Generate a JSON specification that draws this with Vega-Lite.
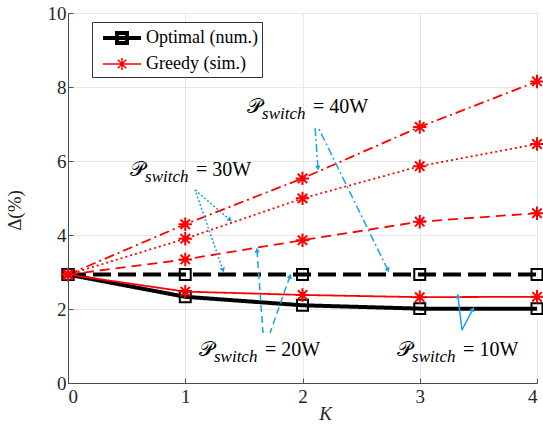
{
  "$schema": "https://vega.github.io/schema/vega-lite/v6.json",
  "autosize": "none",
  "width": 469,
  "height": 370,
  "padding": {"left": 68, "top": 13, "right": 6, "bottom": 41},
  "background": "white",
  "config": {
    "view": {"stroke": "#4d4d4d", "strokeWidth": 1},
    "font": "Liberation Serif",
    "axis": {
      "labelColor": "#262626",
      "titleFontWeight": "normal",
      "titleColor": "#262626",
      "domainColor": "#4d4d4d",
      "tickColor": "#4d4d4d",
      "tickSize": -5,
      "gridColor": "#e8e8e8",
      "gridWidth": 1
    },
    "legend": {
      "labelColor": "#000000",
      "fillColor": "white",
      "strokeColor": "#333333",
      "padding": 4,
      "rowPadding": 2
    }
  },
  "datasets": {
    "curves": [
      {"series": "opt10", "method": "Optimal (num.)", "K": 0, "value": 2.93},
      {"series": "opt10", "method": "Optimal (num.)", "K": 1, "value": 2.33},
      {"series": "opt10", "method": "Optimal (num.)", "K": 2, "value": 2.1},
      {"series": "opt10", "method": "Optimal (num.)", "K": 3, "value": 2.01},
      {"series": "opt10", "method": "Optimal (num.)", "K": 4, "value": 2.01},
      {"series": "opt20", "method": "Optimal (num.)", "K": 0, "value": 2.93},
      {"series": "opt20", "method": "Optimal (num.)", "K": 1, "value": 2.93},
      {"series": "opt20", "method": "Optimal (num.)", "K": 2, "value": 2.93},
      {"series": "opt20", "method": "Optimal (num.)", "K": 3, "value": 2.93},
      {"series": "opt20", "method": "Optimal (num.)", "K": 4, "value": 2.93},
      {"series": "gr10", "method": "Greedy (sim.)", "K": 0, "value": 2.93},
      {"series": "gr10", "method": "Greedy (sim.)", "K": 1, "value": 2.47},
      {"series": "gr10", "method": "Greedy (sim.)", "K": 2, "value": 2.38},
      {"series": "gr10", "method": "Greedy (sim.)", "K": 3, "value": 2.32},
      {"series": "gr10", "method": "Greedy (sim.)", "K": 4, "value": 2.33},
      {"series": "gr20", "method": "Greedy (sim.)", "K": 0, "value": 2.93},
      {"series": "gr20", "method": "Greedy (sim.)", "K": 1, "value": 3.34},
      {"series": "gr20", "method": "Greedy (sim.)", "K": 2, "value": 3.86},
      {"series": "gr20", "method": "Greedy (sim.)", "K": 3, "value": 4.36},
      {"series": "gr20", "method": "Greedy (sim.)", "K": 4, "value": 4.59},
      {"series": "gr30", "method": "Greedy (sim.)", "K": 0, "value": 2.93},
      {"series": "gr30", "method": "Greedy (sim.)", "K": 1, "value": 3.9},
      {"series": "gr30", "method": "Greedy (sim.)", "K": 2, "value": 4.99},
      {"series": "gr30", "method": "Greedy (sim.)", "K": 3, "value": 5.86},
      {"series": "gr30", "method": "Greedy (sim.)", "K": 4, "value": 6.46},
      {"series": "gr40", "method": "Greedy (sim.)", "K": 0, "value": 2.93},
      {"series": "gr40", "method": "Greedy (sim.)", "K": 1, "value": 4.29},
      {"series": "gr40", "method": "Greedy (sim.)", "K": 2, "value": 5.53},
      {"series": "gr40", "method": "Greedy (sim.)", "K": 3, "value": 6.92},
      {"series": "gr40", "method": "Greedy (sim.)", "K": 4, "value": 8.15}
    ],
    "arrows": [
      {"power": "40W", "K": 2.132, "value": 5.81, "K2": 2.107, "value2": 6.92, "heading": 176},
      {"power": "40W", "K": 2.729, "value": 3.05, "K2": 2.132, "value2": 6.92, "heading": 154},
      {"power": "30W", "K": 1.382, "value": 4.41, "K2": 1.083, "value2": 5.22, "heading": 131},
      {"power": "30W", "K": 1.322, "value": 3.05, "K2": 1.083, "value2": 5.22, "heading": 161},
      {"power": "20W", "K": 1.612, "value": 3.59, "K2": 1.663, "value2": 1.35, "heading": 356},
      {"power": "20W", "K": 1.893, "value": 2.89, "K2": 1.723, "value2": 1.35, "heading": 19},
      {"power": "10W", "K": 3.326, "value": 2.35, "K2": 3.36, "value2": 1.43, "heading": 353},
      {"power": "10W", "K": 3.454, "value": 2.0, "K2": 3.36, "value2": 1.43, "heading": 28}
    ],
    "notes": [
      {"power": "40W", "K": 1.527, "value": 7.46},
      {"power": "30W", "K": 0.529, "value": 5.76},
      {"power": "20W", "K": 1.117, "value": 0.89},
      {"power": "10W", "K": 2.807, "value": 0.89}
    ]
  },
  "encoding": {
    "x": {
      "field": "K",
      "type": "quantitative",
      "scale": {"domain": [0, 4], "nice": false, "zero": false},
      "axis": {
        "values": [0, 1, 2, 3, 4],
        "labelFont": "Liberation Serif",
        "labelFontSize": 19,
        "title": "K",
        "titleFont": "Liberation Serif",
        "titleFontStyle": "italic",
        "titleFontSize": 19,
        "titleX": 257,
        "titleY": 30,
        "titleBaseline": "middle",
        "labelPadding": 9,
        "grid": true
      }
    },
    "y": {
      "field": "value",
      "type": "quantitative",
      "scale": {"domain": [0, 10], "nice": false},
      "axis": {
        "values": [0, 2, 4, 6, 8, 10],
        "labelFont": "Liberation Serif",
        "labelFontSize": 19,
        "title": "Δ(%)",
        "titleFont": "Liberation Serif",
        "titleFontSize": 19,
        "titleX": -44,
        "titleY": 197,
        "labelPadding": 7,
        "grid": true
      }
    }
  },
  "layer": [
    {
      "data": {"name": "curves"},
      "mark": {"type": "line", "strokeCap": "butt"},
      "encoding": {
        "detail": {"field": "series"},
        "color": {
          "field": "series",
          "type": "nominal",
          "scale": {
            "domain": ["opt10", "opt20", "gr10", "gr20", "gr30", "gr40"],
            "range": ["#000000", "#000000", "#ff0000", "#ff0000", "#ff0000", "#ff0000"]
          },
          "legend": null
        },
        "strokeDash": {
          "field": "series",
          "type": "nominal",
          "scale": {
            "type": "ordinal",
            "domain": ["opt10", "opt20", "gr10", "gr20", "gr30", "gr40"],
            "range": [[1, 0], [18, 7], [1, 0], [10, 6], [2, 3], [10, 4, 2, 4]]
          },
          "legend": null
        },
        "strokeWidth": {
          "field": "series",
          "type": "nominal",
          "scale": {
            "type": "ordinal",
            "domain": ["opt10", "opt20", "gr10", "gr20", "gr30", "gr40"],
            "range": [4, 4, 1.8, 1.8, 1.8, 1.8]
          },
          "legend": null
        }
      }
    },
    {
      "data": {"name": "curves"},
      "transform": [{"filter": "datum.method === 'Optimal (num.)'"}],
      "mark": {"type": "point", "shape": "square", "filled": false, "color": "#000000", "strokeWidth": 2, "size": 120, "opacity": 1}
    },
    {
      "data": {"name": "curves"},
      "transform": [{"filter": "datum.method === 'Greedy (sim.)'"}],
      "mark": {
        "type": "point",
        "shape": "M0,-1V1M-1,0H1M-0.7,-0.7L0.7,0.7M-0.7,0.7L0.7,-0.7",
        "filled": false,
        "color": "#ff0000",
        "strokeWidth": 2,
        "size": 180,
        "opacity": 1
      }
    },
    {
      "data": {"name": "arrows"},
      "mark": {"type": "rule", "color": "#18a3e6", "strokeWidth": 1.5},
      "encoding": {
        "x2": {"field": "K2"},
        "y2": {"field": "value2"},
        "strokeDash": {
          "field": "power",
          "type": "nominal",
          "scale": {
            "type": "ordinal",
            "domain": ["10W", "20W", "30W", "40W"],
            "range": [[1, 0], [7, 4], [2, 2], [8, 3, 2, 3]]
          },
          "legend": null
        }
      }
    },
    {
      "data": {"name": "arrows"},
      "mark": {"type": "point", "shape": "triangle-up", "filled": true, "color": "#18a3e6", "size": 30, "opacity": 1},
      "encoding": {
        "angle": {"field": "heading", "type": "quantitative", "scale": null}
      }
    },
    {
      "data": {"name": "notes"},
      "mark": {"type": "text", "text": "𝒫", "align": "left", "baseline": "middle", "font": "DejaVu Serif", "fontSize": 21, "color": "#000000"}
    },
    {
      "data": {"name": "notes"},
      "mark": {"type": "text", "text": "switch", "align": "left", "baseline": "middle", "font": "Liberation Serif", "fontStyle": "italic", "fontSize": 17, "dx": 15, "dy": 7, "color": "#000000"}
    },
    {
      "data": {"name": "notes"},
      "mark": {"type": "text", "align": "left", "baseline": "middle", "font": "Liberation Serif", "fontSize": 20, "dx": 66, "color": "#000000"},
      "encoding": {
        "text": {"field": "label", "type": "nominal"}
      },
      "transform": [{"calculate": "'= ' + datum.power", "as": "label"}]
    },
    {
      "data": {"name": "curves"},
      "transform": [{"filter": "datum.K > 100"}],
      "mark": {"type": "point", "filled": false, "size": 400, "opacity": 1},
      "encoding": {
        "shape": {
          "field": "method",
          "type": "nominal",
          "scale": {
            "domain": ["Optimal (num.)", "Greedy (sim.)"],
            "range": [
              "M-1.9,0H1.9M-0.5,-0.5H0.5V0.5H-0.5Z",
              "M-1.9,0H1.9M0,-0.6V0.6M-0.42,-0.42L0.42,0.42M-0.42,0.42L0.42,-0.42"
            ]
          },
          "legend": {
            "title": null,
            "orient": "none",
            "legendX": 24,
            "legendY": 9,
            "symbolOffset": 14,
            "labelOffset": 12,
            "symbolSize": 400,
            "labelFont": "Liberation Serif",
            "labelFontSize": 18
          }
        },
        "color": {
          "field": "method",
          "type": "nominal",
          "scale": {"domain": ["Optimal (num.)", "Greedy (sim.)"], "range": ["#000000", "#ff0000"]},
          "legend": {"title": null, "orient": "none", "legendX": 24, "legendY": 9, "symbolOffset": 14, "labelOffset": 12, "symbolSize": 400, "labelFont": "Liberation Serif", "labelFontSize": 18}
        },
        "strokeWidth": {
          "field": "method",
          "type": "nominal",
          "scale": {"type": "ordinal", "domain": ["Optimal (num.)", "Greedy (sim.)"], "range": [4, 1.5]},
          "legend": {"title": null, "orient": "none", "legendX": 24, "legendY": 9, "symbolOffset": 14, "labelOffset": 12, "symbolSize": 400, "labelFont": "Liberation Serif", "labelFontSize": 18}
        }
      }
    }
  ],
  "resolve": {
    "scale": {"color": "independent", "shape": "independent", "strokeWidth": "independent", "strokeDash": "independent"}
  }
}
